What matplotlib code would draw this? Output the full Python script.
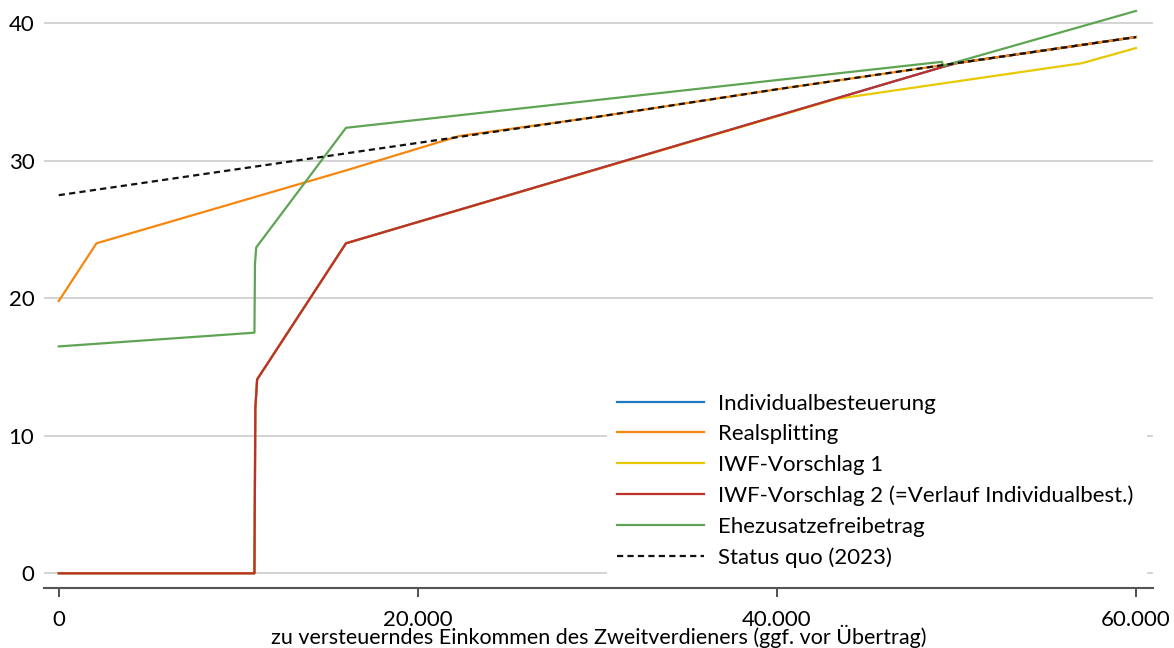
import numpy as np
import matplotlib.pyplot as plt
from matplotlib.ticker import FuncFormatter

plt.rcParams['font.family'] = ['Lato', 'DejaVu Sans']

# Einkommen des Zweitverdieners (EUR) und Werte je Variante
x_status = [0, 10000, 20000, 30000, 40000, 50000, 60000]
y_status = [27.5, 29.4, 31.3, 33.2, 35.2, 37.1, 39.0]

x_real = [0, 2100, 16000, 22300, 30000, 40000, 50000, 60000]
y_real = [19.8, 24.0, 29.3, 31.8, 33.2, 35.2, 37.1, 39.0]

x_iwf2 = [0, 10900, 10950, 11050, 16000, 49300, 50000, 60000]
y_iwf2 = [0.0, 0.0, 12.0, 14.1, 24.0, 36.85, 37.1, 39.0]

x_indiv = x_iwf2
y_indiv = y_iwf2

x_iwf1 = [0, 10900, 10950, 11050, 16000, 43300, 57000, 60000]
y_iwf1 = [0.0, 0.0, 12.0, 14.1, 24.0, 34.5, 37.1, 38.2]

x_ehe = [0, 10900, 10930, 11000, 16000, 49200, 49250, 60000]
y_ehe = [16.5, 17.5, 22.5, 23.7, 32.4, 37.2, 36.9, 40.9]

labels = ["Individualbesteuerung", "Realsplitting", "IWF-Vorschlag 1",
          "IWF-Vorschlag 2 (=Verlauf Individualbest.)", "Ehezusatzefreibetrag",
          "Status quo (2023)"]

fig = plt.figure(figsize=(11.74, 6.48), dpi=100)
ax = fig.add_axes([0.0375, 0.093, 0.9446, 0.8965])

lw = 1.6
l1, = ax.plot(x_indiv, y_indiv, color="#1f77c0", lw=lw, zorder=2)
l3, = ax.plot(x_iwf1, y_iwf1, color="#e8c800", lw=lw, zorder=3)
l4, = ax.plot(x_iwf2, y_iwf2, color="#c0302a", lw=lw, zorder=4)
l2, = ax.plot(x_real, y_real, color="#f5870f", lw=lw, zorder=5)
l5, = ax.plot(x_ehe, y_ehe, color="#5ea553", lw=lw, zorder=6)
l6, = ax.plot(x_status, y_status, color="#111111", lw=lw, ls=(0, (2.8, 1.9)), zorder=7)

ax.set_xlim(-820, 60950)
ax.set_ylim(-1.05, 41.2)
ax.set_yticks([0, 10, 20, 30, 40])
ax.set_xticks([0, 20000, 40000, 60000])
ax.xaxis.set_major_formatter(FuncFormatter(lambda v, p: f"{int(v):,}".replace(",", ".")))

ax.grid(axis="y", color="#cccccc", lw=1.2, zorder=0)
for s in ["top", "right", "left"]:
    ax.spines[s].set_visible(False)
ax.spines["bottom"].set_color("#555555")
ax.spines["bottom"].set_linewidth(1.5)
ax.tick_params(axis="y", length=0, pad=7, labelsize=16)
ax.tick_params(axis="x", length=6.5, width=1.2, color="#333333", pad=9.5, labelsize=16)

ax.set_xlabel("zu versteuerndes Einkommen des Zweitverdieners (ggf. vor Übertrag)",
              fontsize=15.5, labelpad=-3.5)

leg = ax.legend([l1, l2, l3, l4, l5, l6], labels, loc="lower left",
                bbox_to_anchor=(0.5077, 0.0167, 0.487, 0.1), mode="expand",
                borderaxespad=0, frameon=True, fancybox=False,
                framealpha=1, edgecolor="none", fontsize=16, handlelength=3.9,
                handletextpad=0.63, labelspacing=0.48, borderpad=0.45)
leg.set_zorder(10)

fig.savefig("out.png", dpi=100)
